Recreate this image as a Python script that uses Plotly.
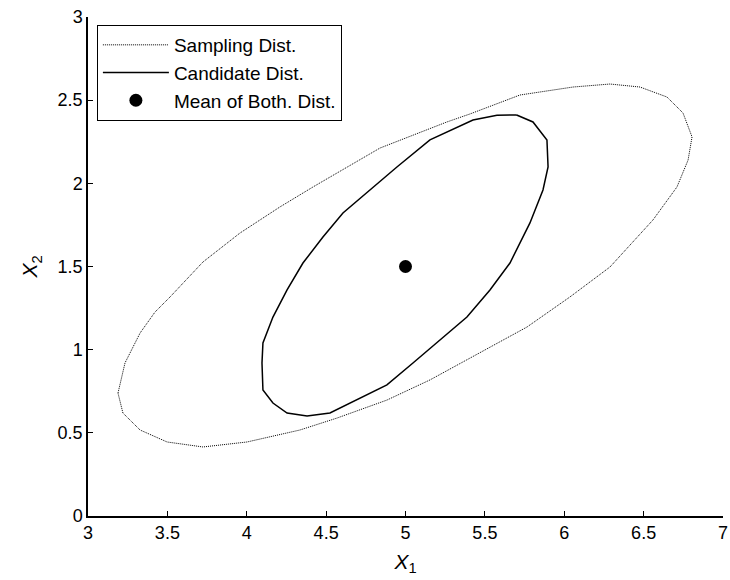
import plotly.graph_objects as go

# Outer contour of the sampling distribution (x1, x2)
sampling_x1 = [3.189, 3.233, 3.328, 3.422, 3.517, 3.724, 3.957, 4.209, 4.417, 4.839,
               5.261, 5.406, 5.721, 6.055, 6.288, 6.477, 6.647, 6.748, 6.805, 6.780,
               6.710, 6.559, 6.288, 6.036, 5.765, 5.469, 5.154, 4.883, 4.569, 4.335,
               4.002, 3.724, 3.498, 3.328, 3.220, 3.189]
sampling_x2 = [0.739, 0.920, 1.100, 1.226, 1.317, 1.527, 1.701, 1.858, 1.978, 2.212,
               2.369, 2.417, 2.531, 2.579, 2.597, 2.579, 2.519, 2.423, 2.279, 2.140,
               1.978, 1.780, 1.497, 1.317, 1.136, 0.980, 0.818, 0.697, 0.589, 0.517,
               0.445, 0.415, 0.445, 0.517, 0.619, 0.739]

# Contour of the candidate distribution (x1, x2)
candidate_x1 = [5.700, 5.576, 5.425, 5.154, 4.946, 4.776, 4.606, 4.480, 4.354, 4.254,
                4.165, 4.102, 4.096, 4.102, 4.165, 4.254, 4.380, 4.524, 4.694, 4.883,
                5.047, 5.217, 5.387, 5.532, 5.658, 5.784, 5.866, 5.898, 5.891, 5.803,
                5.700]
candidate_x2 = [2.411, 2.410, 2.381, 2.261, 2.098, 1.960, 1.822, 1.677, 1.521, 1.359,
                1.196, 1.040, 0.920, 0.758, 0.679, 0.619, 0.601, 0.619, 0.697, 0.788,
                0.920, 1.058, 1.196, 1.359, 1.521, 1.762, 1.960, 2.098, 2.261, 2.369,
                2.411]

# Common mean
mean_x1 = [5.0]
mean_x2 = [1.5]

x_ticks = [3, 3.5, 4, 4.5, 5, 5.5, 6, 6.5, 7]
y_ticks = [0, 0.5, 1, 1.5, 2, 2.5, 3]

FONT = "Liberation Sans Narrow, Arial Narrow, Liberation Sans, Arial, sans-serif"

fig = go.Figure()
fig.add_trace(go.Scatter(
    x=sampling_x1, y=sampling_x2, mode="lines", name="Sampling Dist.",
    legendgroup="s",
    line=dict(color="black", width=1, dash="1px,1px"),
))
fig.add_trace(go.Scatter(
    x=candidate_x1, y=candidate_x2, mode="lines", name="Candidate Dist.",
    legendgroup="c",
    line=dict(color="black", width=1.5),
))
fig.add_trace(go.Scatter(
    x=mean_x1, y=mean_x2, mode="markers", name="Mean of Both. Dist.",
    legendgroup="m",
    marker=dict(color="black", size=13),
))

tick_font = dict(family=FONT, size=18, color="black")

fig.update_layout(
    width=730, height=580,
    margin=dict(l=88, r=7, t=17, b=64),
    paper_bgcolor="white", plot_bgcolor="white",
    font=tick_font,
    showlegend=True,
    legend=dict(
        x=0.014, y=0.984, xanchor="left", yanchor="top",
        bordercolor="black", borderwidth=1, bgcolor="white",
        font=dict(family=FONT, size=19, color="black"),
        tracegroupgap=0, itemwidth=66,
    ),
    xaxis=dict(
        range=[3, 7], tickvals=x_ticks, ticktext=[f"{v:g}" for v in x_ticks],
        ticks="inside", ticklen=5, tickcolor="black", tickwidth=1,
        showline=True, linecolor="black", linewidth=1.5,
        showgrid=False, zeroline=False, tickfont=tick_font, automargin=False,
        title=dict(text="<i>X</i><sub>1</sub>", font=dict(family=FONT, size=21), standoff=12),
    ),
    yaxis=dict(
        range=[0, 3], tickvals=y_ticks, ticktext=[f"{v:g}" for v in y_ticks],
        ticks="inside", ticklen=5, tickcolor="black", tickwidth=1,
        showline=True, linecolor="black", linewidth=1.5,
        showgrid=False, zeroline=False, tickfont=tick_font, automargin=False,
        title=dict(text="<i>X</i><sub>2</sub>", font=dict(family=FONT, size=21), standoff=14),
    ),
)

fig.write_html("out.html")
